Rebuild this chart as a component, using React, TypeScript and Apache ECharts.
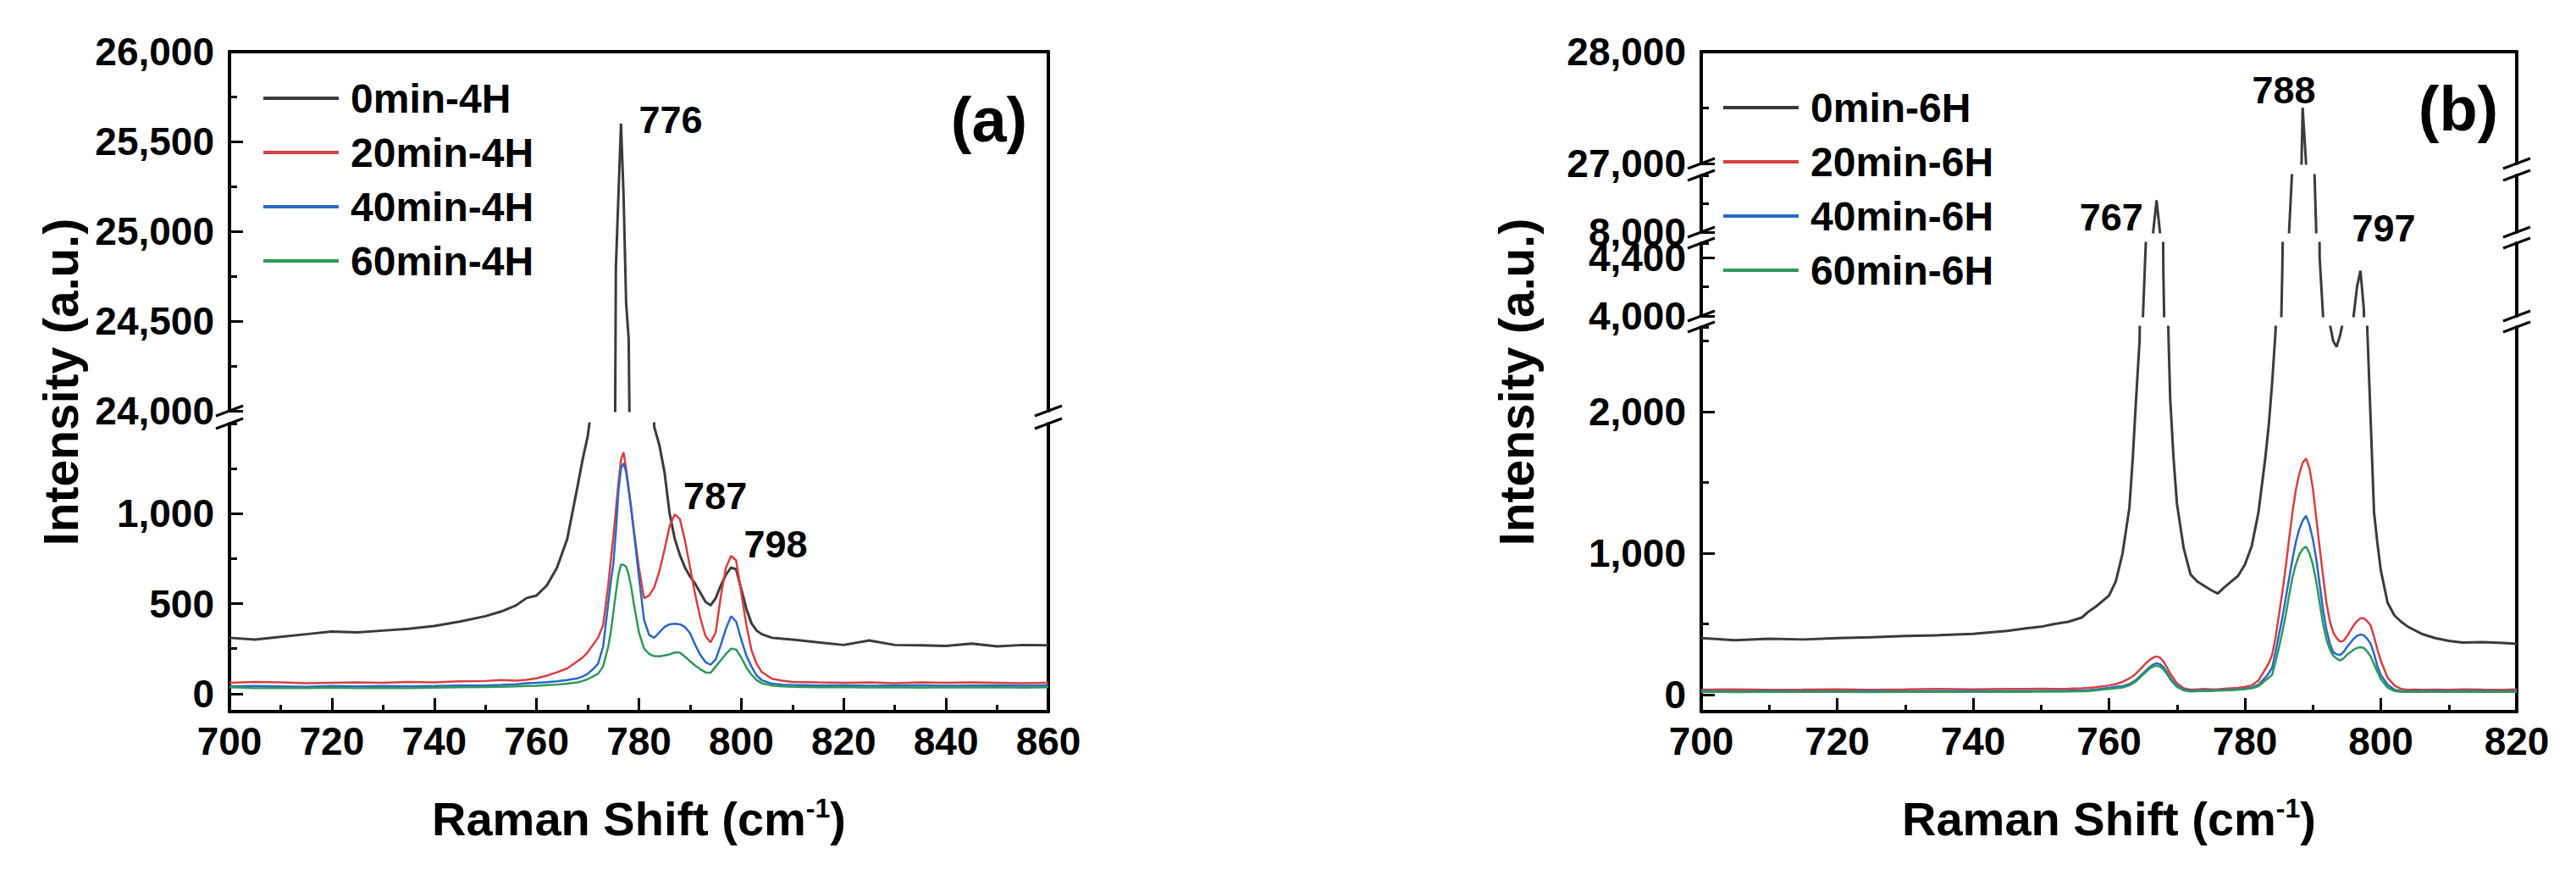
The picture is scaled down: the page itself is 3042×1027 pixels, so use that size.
import React, { useEffect, useRef } from 'react';
import * as echarts from 'echarts';

// ---------------- DATA ----------------
const NAMES_A = ['0min-4H', '20min-4H', '40min-4H', '60min-4H'];
const NAMES_B = ['0min-6H', '20min-6H', '40min-6H', '60min-6H'];

// Panel (a): Raman shift (cm-1)
const X_A = [700,705,710,715,720,725,730,735,740,745,750,753,756,758,760,762,764,766,768,769,770,771,772,773,774,774.5,775,775.5,776,776.5,777,777.5,778,778.5,779,780,781,782,783,784,785,786,787,788,789,790,791,792,793,794,795,796,797,798,799,800,801,802,803,804,806,808,810,815,820,825,830,835,840,845,850,855,860];
const A_0 = [310,300,315,330,345,340,350,360,375,400,430, 455,490,530,545,600,700,860,1150, 1300,1430,1650,2300,4000,9000, 14000,22000,24800,25200,25600,25200,24600,24400,23000, 14000,8000,4000,2400,1480,1380,1230,1000,860,770,700,650,610,560,510,490,530,600,660,700,690,580,470,390,350,330, 310,305,300, 285,270,295,270,268,265,278,262,270,268];
const A_20 = [60,65,62,58,60,62,60,65,62,68,70, 75,72,76,85,100,118,140,180, 200,230,270,310,380,600, 740,870,1020,1170,1300,1340,1250,1140,1020, 910,700,530,545,590,680,800,930,995,970,850,700,550,420,320,285,340,540,700,765,740,560,380,240,165,120, 82,72,65, 62,60,62,58,62,60,62,60,58,60];
const A_40 = [40,42,40,38,42,40,42,40,42,45,45, 48,52,58,60,63,68,75,85, 95,110,135,165,260,500, 620,720,900,1125,1250,1280,1230,1130,1030, 900,650,410,325,310,340,370,385,388,385,370,335,270,215,175,160,190,270,360,430,400,300,210,150,100,75, 55,50,48, 45,46,44,45,46,44,45,46,44,45];
const A_60 = [35,30,32,30,33,30,32,30,33,35,36, 38,40,42,44,47,50,55,62, 70,80,95,110,150,260, 340,450,560,660,717,715,705,660,590, 500,340,250,220,208,207,212,218,228,228,205,180,155,135,118,115,150,185,220,250,245,200,145,105,75,58, 45,40,38, 35,36,34,35,33,35,34,35,33,35];

// Panel (b)
const X_B = [700,705,710,715,720,725,730,735,740,745, 748,750,752,754, 756,757,758,759,760,761,762,763, 763.5,764,764.5,765,765.5,766,766.5,767,767.5,768,768.5,769,769.5, 770,771,772,773,774,775,776,777,778,779,780,781,782,783, 783.5,784,784.5,785,785.5,786,786.5,787,787.5,788,788.5,789,789.5,790,790.5,791,791.5,792,792.5,793,793.5,794,794.5,795,795.5,796,796.5,797,797.5,798,798.5,799,799.5, 800,801,802,803,804,805,806, 808,810,812,815,818,820];
const B_0 = [400,385,395,390,400,405,415,420,430,450, 470,480,500,515, 545,587,620,660,700,800,1000,1320, 1673,2100,2500,4000,4600,6000,8000,8280,8000,4300,3000,2100,1673, 1350,1034,850,800,770,740,715,760,800,840,920,1050,1290,1673, 1900,2200,2560,3200,4300,6000,8000,8600,12000,26000,27500,27000,18000,9000,8000,4400,4000,3200,2620,2500,2460,2540,2650,3000,3600,4000,4200,4310,4050,2600,1950,1291,1070, 880,650,560,515,480,455,430, 400,380,368,372,365,360];
const B_20 = [35,38,35,36,38,35,37,40,38,40, 40,42,40,42, 45,48,52,58,65,75,90,115, 130,150,175,200,225,245,262,270,262,235,195,150,115, 80,45,35,38,40,38,38,42,45,48,55,65,100,180, 220,280,400,560,720,900,1100,1290,1450,1560,1640,1670,1600,1460,1250,1040,840,650,520,440,400,375,380,410,450,490,520,540,540,520,490,410,320, 240,120,65,40,35,36,35, 36,35,38,36,35,37];
const B_40 = [25,22,25,24,22,25,23,25,26,25, 26,25,27,28, 30,32,36,42,48,55,60,75, 90,105,128,150,172,195,212,222,215,195,160,120,90, 60,35,28,28,30,30,32,34,36,38,42,50,70,120, 150,190,300,420,540,680,820,957,1080,1170,1230,1265,1200,1100,960,780,600,460,360,300,285,280,300,335,365,395,415,425,420,395,360,290,200, 140,70,35,25,24,25,24, 25,24,25,26,24,25];
const B_60 = [20,18,20,19,20,18,20,19,20,21, 20,22,21,22, 24,26,30,35,40,45,50,65, 80,95,118,140,162,185,198,205,198,180,148,110,80, 55,30,22,24,25,26,28,30,32,34,38,45,60,100, 120,140,230,330,440,560,700,829,920,990,1030,1047,1000,920,800,650,498,390,320,275,255,242,255,280,300,318,330,335,330,305,270,215,160, 110,50,25,20,20,19,20, 20,19,21,20,19,20];

// Broken y-axis segments: [min, max, major step, minor step], top to bottom
const A_SEGMENTS = [[24000, 26000, 500, 250], [-100, 1500, 500, 250]];
const B_SEGMENTS = [[27000, 28000, 1000, 500], [8000, 8500, 500, 250], [4000, 4500, 400, 200], [-120, 2600, 1000, 500]];
const A_X_RANGE = [700, 860];
const B_X_RANGE = [700, 820];
const X_STEP = 20;

// Peak annotations: [label, x, y, segment index]
const ANNOT_A: [string, number, number, number][] = [['776', 786.3, 25620, 0], ['787', 795.0, 1096, 1], ['798', 806.8, 827, 1]];
const ANNOT_B: [string, number, number, number][] = [['788', 785.8, 27650, 0], ['767', 760.4, 8130, 1], ['797', 800.5, 8030, 1]];

// ---------------- STYLE / LAYOUT ----------------
const W = 3042;
const H = 1027;
const FONT = '"Liberation Sans", Arial, Helvetica, sans-serif';
const COLORS = ['#3b3b3b', '#d9403f', '#2a68c9', '#2e9a5a'];

type Lay = { top: number; height: number; showMin: boolean; showMax: boolean; xRole: 'top' | 'bottom' | 'none' };

const PANELS = [
  {
    left: 271, width: 967, xr: A_X_RANGE, names: NAMES_A, x: X_A, ys: [A_0, A_20, A_40, A_60], segs: A_SEGMENTS, annots: ANNOT_A,
    legend: { left: 306, top: 87 }, label: '(a)', labelPos: [1168, 141], yTitlePos: [72, 451],
    layout: [
      { top: 61, height: 424, showMin: true, showMax: true, xRole: 'top' },
      { top: 500, height: 340, showMin: false, showMax: false, xRole: 'bottom' },
    ] as Lay[],
  },
  {
    left: 2009, width: 963, xr: B_X_RANGE, names: NAMES_B, x: X_B, ys: [B_0, B_20, B_40, B_60], segs: B_SEGMENTS, annots: ANNOT_B,
    legend: { left: 2030, top: 98 }, label: '(b)', labelPos: [2903, 128], yTitlePos: [1791, 451],
    layout: [
      { top: 61, height: 132, showMin: true, showMax: true, xRole: 'top' },
      { top: 207, height: 67, showMin: true, showMax: false, xRole: 'none' },
      { top: 287, height: 86, showMin: true, showMax: false, xRole: 'none' },
      { top: 386, height: 454, showMin: false, showMax: false, xRole: 'bottom' },
    ] as Lay[],
  },
];

const fmt = (v: number) => Math.round(v).toLocaleString('en-US');

function buildOption() {
  const grid: any[] = [];
  const xAxis: any[] = [];
  const yAxis: any[] = [];
  const series: any[] = [];
  const graphic: any[] = [];
  const legend: any[] = [];

  const axisLine = { show: true, onZero: false, lineStyle: { color: '#000', width: 4 } };
  const tickStyle = { color: '#000', width: 3 };
  const labelBase = { color: '#000', fontFamily: FONT, fontWeight: 'bold', fontSize: 46 };

  PANELS.forEach((p) => {
    const gridIdx: number[] = [];
    const yIdx: number[] = [];
    p.layout.forEach((lay, si) => {
      const seg = p.segs[si];
      const gi = grid.length;
      gridIdx.push(gi);
      grid.push({ left: p.left, top: lay.top, width: p.width, height: lay.height, containLabel: false, outerBoundsMode: 'none' });

      if (lay.xRole === 'bottom') {
        xAxis.push({
          gridIndex: gi, type: 'value', position: 'bottom', min: p.xr[0], max: p.xr[1], interval: X_STEP,
          axisLine,
          axisTick: { show: true, inside: true, length: 16, lineStyle: tickStyle },
          minorTick: { show: true, splitNumber: 2, length: 8, lineStyle: tickStyle },
          axisLabel: { ...labelBase, margin: 12, formatter: (v: number) => String(v) },
          splitLine: { show: false }, minorSplitLine: { show: false },
          name: 'Raman Shift (cm{sup|-1})', nameLocation: 'middle', nameGap: 98,
          nameTextStyle: {
            color: '#000', fontFamily: FONT, fontWeight: 'bold', fontSize: 56,
            rich: { sup: { color: '#000', fontFamily: FONT, fontWeight: 'bold', fontSize: 32, verticalAlign: 'top' } },
          },
        });
      } else if (lay.xRole === 'top') {
        xAxis.push({
          gridIndex: gi, type: 'value', position: 'top', min: p.xr[0], max: p.xr[1],
          axisLine, axisTick: { show: false }, axisLabel: { show: false }, splitLine: { show: false },
        });
      } else {
        xAxis.push({ gridIndex: gi, type: 'value', min: p.xr[0], max: p.xr[1], show: false });
      }

      const yMajor = yAxis.length;
      yIdx.push(yMajor);
      yAxis.push({
        gridIndex: gi, type: 'value', position: 'left', min: seg[0], max: seg[1],
        minInterval: seg[2], maxInterval: seg[2],
        axisLine,
        axisTick: { show: true, inside: true, length: 16, lineStyle: tickStyle },
        axisLabel: { ...labelBase, margin: 18, formatter: fmt, showMinLabel: lay.showMin, showMaxLabel: lay.showMax },
        splitLine: { show: false },
      });
      yAxis.push({
        gridIndex: gi, type: 'value', position: 'left', min: seg[0], max: seg[1],
        minInterval: seg[3], maxInterval: seg[3],
        axisLine: { show: false, onZero: false },
        axisTick: { show: true, inside: true, length: 9, lineStyle: tickStyle },
        axisLabel: { show: false }, splitLine: { show: false },
      });
      yAxis.push({
        gridIndex: gi, type: 'value', position: 'right', min: seg[0], max: seg[1],
        axisLine, axisTick: { show: false }, axisLabel: { show: false }, splitLine: { show: false },
      });

      p.ys.forEach((ys, k) => {
        series.push({
          type: 'line', name: p.names[k], xAxisIndex: gi, yAxisIndex: yMajor,
          data: p.x.map((xv, i) => [xv, ys[i]]),
          symbol: 'none', showSymbol: false, clip: true, silent: true, z: 2 + k,
          lineStyle: { color: COLORS[k], width: k === 0 ? 3 : 2.5 },
          itemStyle: { color: COLORS[k] },
        });
      });

      // break marks between this segment and the next
      if (si < p.layout.length - 1) {
        const yU = lay.top + lay.height;
        const yL = p.layout[si + 1].top;
        [p.left, p.left + p.width].forEach((ax) => {
          [yU, yL].forEach((yy) => {
            graphic.push({
              type: 'line', silent: true, z: 100,
              shape: { x1: ax - 16, y1: yy + 6, x2: ax + 16, y2: yy - 6 },
              style: { stroke: '#000', lineWidth: 3 },
            });
          });
        });
      }
    });

    // annotations
    p.annots.forEach(([txt, ax, ay, si]) => {
      series.push({
        type: 'scatter', xAxisIndex: gridIdx[si], yAxisIndex: yIdx[si], silent: true, z: 20,
        symbol: 'circle', symbolSize: 1, itemStyle: { color: '#ffffff', opacity: 1 },
        data: [{ value: [ax, ay], name: txt }],
        label: {
          show: true, position: [0, 0], formatter: '{b}', color: '#000000', opacity: 1,
          textBorderWidth: 0, textShadowBlur: 0,
          fontFamily: FONT, fontWeight: 'bold', fontSize: 45, align: 'center', verticalAlign: 'middle',
        },
      });
    });

    legend.push({
      data: p.names, orient: 'vertical', left: p.legend.left, top: p.legend.top,
      itemWidth: 89, itemHeight: 4, itemGap: 16, icon: 'rect', selectedMode: false,
      textStyle: { color: '#000', fontFamily: FONT, fontWeight: 'bold', fontSize: 48, padding: [0, 0, 0, 9] },
    });

    graphic.push({
      type: 'text', x: p.yTitlePos[0], y: p.yTitlePos[1], rotation: Math.PI / 2, silent: true,
      style: {
        text: 'Intensity (a.u.)', fill: '#000', font: `bold 57px ${FONT}`,
        align: 'center', verticalAlign: 'middle', textAlign: 'center', textVerticalAlign: 'middle',
      },
    });
    graphic.push({
      type: 'text', x: p.labelPos[0], y: p.labelPos[1], silent: true,
      style: {
        text: p.label, fill: '#000', font: `bold 74px ${FONT}`,
        align: 'center', verticalAlign: 'middle', textAlign: 'center', textVerticalAlign: 'middle',
      },
    });
  });

  return {
    animation: false,
    backgroundColor: '#fff',
    textStyle: { fontFamily: FONT },
    grid, xAxis, yAxis, series, legend, graphic,
  };
}

export default function App() {
  const ref = useRef<HTMLDivElement>(null);
  useEffect(() => {
    if (!ref.current) return;
    const chart = echarts.init(ref.current, null, { renderer: 'svg', width: W, height: H });
    chart.setOption(buildOption() as any);
    return () => chart.dispose();
  }, []);
  return <div ref={ref} style={{ position: 'fixed', left: 0, top: 0, width: W, height: H, background: '#fff' }} />;
}
